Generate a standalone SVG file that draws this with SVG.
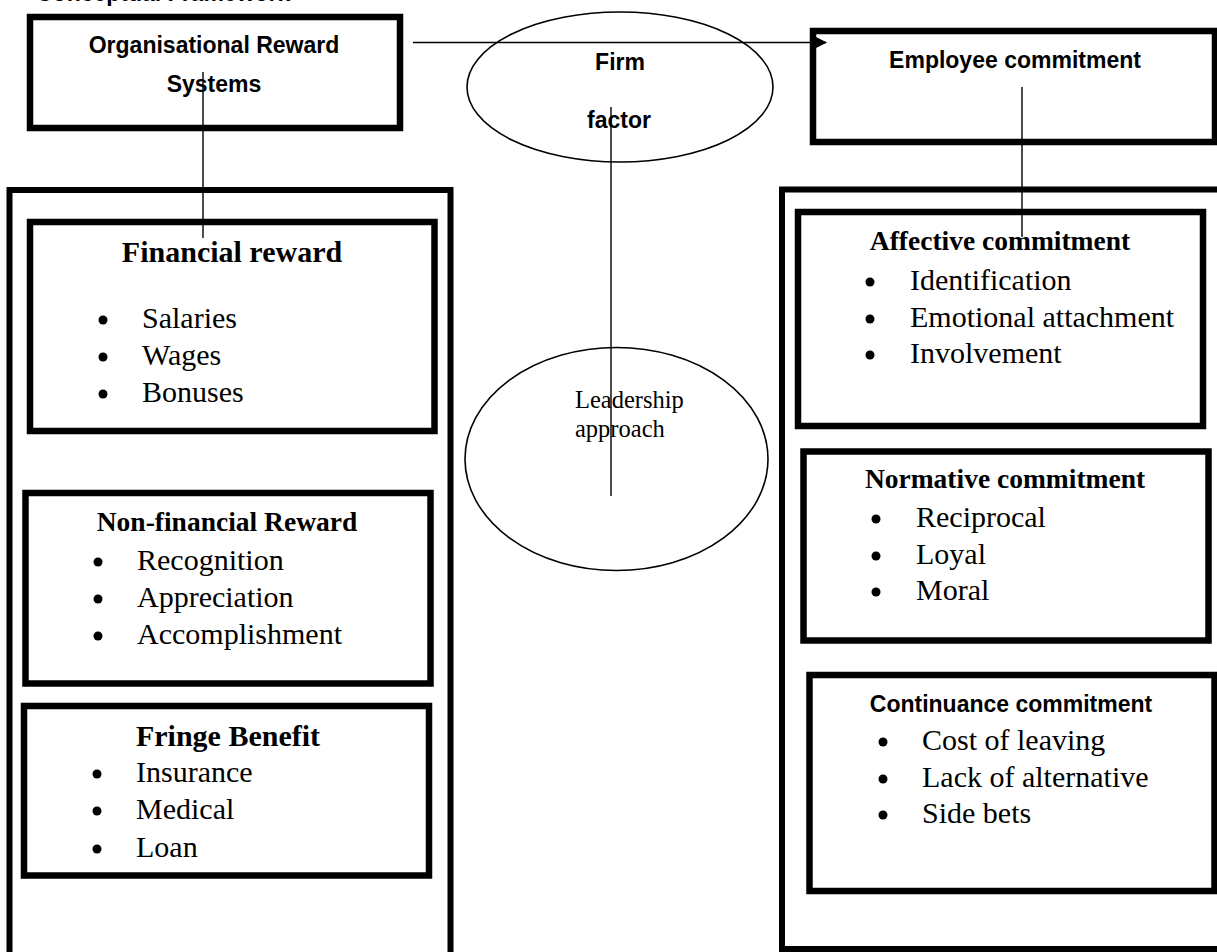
<svg xmlns="http://www.w3.org/2000/svg" width="1217" height="952" viewBox="0 0 1217 952">
<style>
.box{fill:none;stroke:#000;stroke-width:6.5}
.cont{fill:none;stroke:#000;stroke-width:6}
.ell{fill:none;stroke:#000;stroke-width:1.6}
.conn{fill:none;stroke:#000;stroke-width:1.4}
.sans{font-family:"Liberation Sans",Arial,sans-serif;font-weight:bold;font-size:23px;fill:#000}
.ttl{font-family:"Liberation Serif","Times New Roman",serif;font-weight:bold;font-size:27.5px;fill:#000}
.ttl30{font-family:"Liberation Serif","Times New Roman",serif;font-weight:bold;font-size:30px;fill:#000}
.item{font-family:"Liberation Serif","Times New Roman",serif;font-size:30px;fill:#000}
.small{font-family:"Liberation Serif","Times New Roman",serif;font-size:24.5px;fill:#000}
.dot{fill:#000}
</style>
<defs>
<marker id="arr" viewBox="0 0 12 12" refX="11" refY="6" markerWidth="12" markerHeight="12" markerUnits="userSpaceOnUse" orient="auto">
<path d="M0,0 L12,6 L0,12 Z" fill="#000"/>
</marker>
</defs>
<rect width="1217" height="952" fill="#fff"/>
<text class="sans" x="36" y="1" font-size="24.5">Conceptual Framework</text>

<g id="left-container"><rect class="cont" x="9.5" y="190" width="441" height="780"/></g>
<g id="right-container"><rect class="cont" x="782" y="189.5" width="450" height="759.5"/></g>

<g id="org-reward">
<rect class="box" x="30" y="17" width="370" height="111"/>
<text class="sans" x="214" y="53" text-anchor="middle">Organisational Reward</text>
<text class="sans" x="214" y="92" text-anchor="middle">Systems</text>
</g>

<g id="employee-commitment">
<rect class="box" x="813" y="31" width="402" height="111"/>
<text class="sans" x="1015" y="68" text-anchor="middle">Employee commitment</text>
</g>

<g id="firm-factor">
<ellipse class="ell" cx="620" cy="87" rx="153" ry="75"/>
<text class="sans" x="620" y="70" text-anchor="middle">Firm</text>
<text class="sans" x="619" y="128" text-anchor="middle">factor</text>
</g>

<g id="leadership">
<ellipse class="ell" cx="616.5" cy="459" rx="151.5" ry="111.5"/>
<text class="small" x="575" y="408">Leadership</text>
<text class="small" x="575" y="437">approach</text>
</g>

<g id="financial-reward">
<rect class="box" x="30" y="222" width="404.5" height="209"/>
<text class="ttl30" x="232" y="262" text-anchor="middle">Financial reward</text>
<circle class="dot" cx="103" cy="320" r="4.5"/><text class="item" x="142" y="328">Salaries</text>
<circle class="dot" cx="103" cy="357" r="4.5"/><text class="item" x="142" y="365">Wages</text>
<circle class="dot" cx="103" cy="394" r="4.5"/><text class="item" x="142" y="402">Bonuses</text>
</g>

<g id="non-financial-reward">
<rect class="box" x="25.5" y="493" width="405" height="190.5"/>
<text class="ttl" x="227" y="531" text-anchor="middle">Non-financial Reward</text>
<circle class="dot" cx="98" cy="562" r="4.5"/><text class="item" x="137" y="570">Recognition</text>
<circle class="dot" cx="98" cy="599" r="4.5"/><text class="item" x="137" y="607">Appreciation</text>
<circle class="dot" cx="98" cy="636" r="4.5"/><text class="item" x="137" y="644">Accomplishment</text>
</g>

<g id="fringe-benefit">
<rect class="box" x="24" y="706" width="405" height="169.5"/>
<text class="ttl30" x="228" y="746" text-anchor="middle">Fringe Benefit</text>
<circle class="dot" cx="97" cy="774" r="4.5"/><text class="item" x="136" y="782">Insurance</text>
<circle class="dot" cx="97" cy="811" r="4.5"/><text class="item" x="136" y="819">Medical</text>
<circle class="dot" cx="97" cy="849" r="4.5"/><text class="item" x="136" y="857">Loan</text>
</g>

<g id="affective-commitment">
<rect class="box" x="798" y="212" width="405" height="214"/>
<text class="ttl" x="1000" y="250" text-anchor="middle">Affective commitment</text>
<circle class="dot" cx="870" cy="282" r="4.5"/><text class="item" x="910" y="290">Identification</text>
<circle class="dot" cx="870" cy="319" r="4.5"/><text class="item" x="910" y="327">Emotional attachment</text>
<circle class="dot" cx="870" cy="355" r="4.5"/><text class="item" x="910" y="363">Involvement</text>
</g>

<g id="normative-commitment">
<rect class="box" x="803.5" y="451.5" width="405" height="189"/>
<text class="ttl" x="1005" y="488" text-anchor="middle">Normative commitment</text>
<circle class="dot" cx="876" cy="519" r="4.5"/><text class="item" x="916" y="527">Reciprocal</text>
<circle class="dot" cx="876" cy="556" r="4.5"/><text class="item" x="916" y="564">Loyal</text>
<circle class="dot" cx="876" cy="592" r="4.5"/><text class="item" x="916" y="600">Moral</text>
</g>

<g id="continuance-commitment">
<rect class="box" x="809.5" y="675" width="405" height="216"/>
<text class="sans" x="1011" y="712" text-anchor="middle">Continuance commitment</text>
<circle class="dot" cx="883" cy="742" r="4.5"/><text class="item" x="922" y="750">Cost of leaving</text>
<circle class="dot" cx="883" cy="779" r="4.5"/><text class="item" x="922" y="787">Lack of alternative</text>
<circle class="dot" cx="883" cy="815" r="4.5"/><text class="item" x="922" y="823">Side bets</text>
</g>

<g id="connectors">
<line class="conn" x1="413" y1="42.5" x2="826" y2="42.5" marker-end="url(#arr)"/>
<line class="conn" x1="203" y1="72" x2="203" y2="238"/>
<line class="conn" x1="611" y1="107" x2="611" y2="496"/>
<line class="conn" x1="1022" y1="87" x2="1022" y2="237" stroke="#333"/>
</g>
</svg>
